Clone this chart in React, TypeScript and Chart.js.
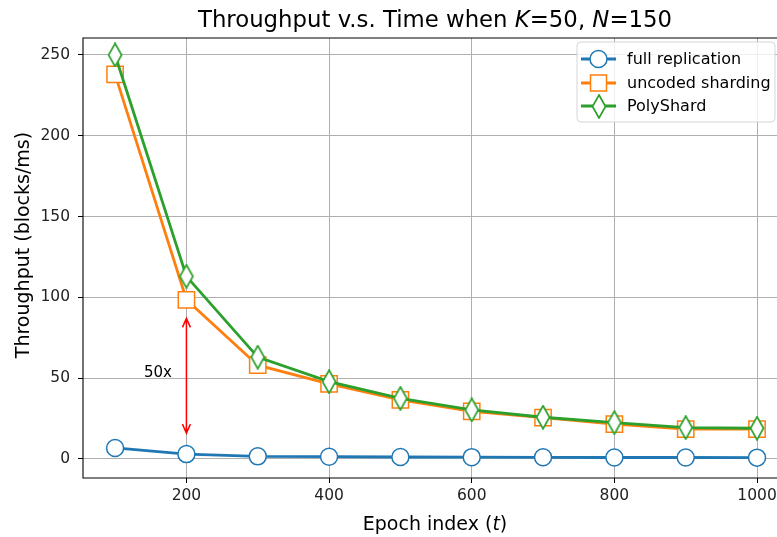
import React, { useEffect, useRef } from "react";
import { Chart, registerables } from "chart.js";

Chart.register(...registerables);

const EPOCHS = [100, 200, 300, 400, 500, 600, 700, 800, 900, 1000];
const FULL_REPLICATION = [6.8, 3.0, 1.6, 1.4, 1.2, 1.1, 1.0, 0.9, 0.9, 0.8];
const UNCODED_SHARDING = [238, 98.5, 58, 46.5, 36.5, 29.5, 25.5, 21.5, 18.5, 18.5];
const POLYSHARD = [250, 113, 63, 47.8, 37.5, 30.3, 25.8, 22.5, 19.4, 19.0];

const X_TICKS = [200, 400, 600, 800, 1000];
const Y_TICKS = [0, 50, 100, 150, 200, 250];

const SERIES_NAMES = ["full replication", "uncoded sharding", "PolyShard"];
const COLORS = ["#1f77b4", "#ff7f0e", "#2ca02c"];

// annotation: double arrow at t=200 between these values, label "50x"
const ARROW_X = 200;
const ARROW_FROM = 16;
const ARROW_TO = 87;
const ANNOT_TEXT = "50x";
const ANNOT_X = 160;
const ANNOT_Y = 51;

const FONT = "'DejaVu Sans', sans-serif";

function makeDiamond(color: string): HTMLCanvasElement {
  const c = document.createElement("canvas");
  const w = 16, h = 25;
  c.width = w;
  c.height = h;
  const ctx = c.getContext("2d")!;
  ctx.beginPath();
  ctx.moveTo(w / 2, 1);
  ctx.lineTo(w - 1.5, h / 2);
  ctx.lineTo(w / 2, h - 1);
  ctx.lineTo(1.5, h / 2);
  ctx.closePath();
  ctx.fillStyle = "#ffffff";
  ctx.fill();
  ctx.lineWidth = 1.7;
  ctx.strokeStyle = color;
  ctx.stroke();
  return c;
}

function drawRich(ctx: CanvasRenderingContext2D, parts: [string, boolean][], cx: number, y: number, size: number) {
  let total = 0;
  const widths: number[] = [];
  for (const [t, it] of parts) {
    ctx.font = `${it ? "italic " : ""}${size}px ${FONT}`;
    const w = ctx.measureText(t).width;
    widths.push(w);
    total += w;
  }
  let x = cx - total / 2;
  ctx.textAlign = "left";
  parts.forEach(([t, it], i) => {
    ctx.font = `${it ? "italic " : ""}${size}px ${FONT}`;
    ctx.fillText(t, x, y);
    x += widths[i];
  });
}

const diamondImg = makeDiamond(COLORS[2]);

const decorPlugin = {
  id: "decor",
  beforeDatasetsDraw(chart: any) {
    const { ctx, chartArea: a } = chart;
    ctx.save();
    ctx.strokeStyle = "#000";
    ctx.lineWidth = 1.1;
    ctx.beginPath();
    ctx.moveTo(a.right + 2, a.top);
    ctx.lineTo(a.left, a.top);
    ctx.lineTo(a.left, a.bottom);
    ctx.lineTo(a.right + 2, a.bottom);
    ctx.stroke();
    ctx.restore();
  },
  afterDraw(chart: any) {
    const { ctx, scales } = chart;
    const xs = scales.x, ys = scales.y;
    ctx.save();
    ctx.fillStyle = "#000";
    ctx.textBaseline = "alphabetic";
    // title
    drawRich(
      ctx,
      [["Throughput v.s. Time when ", false], ["K", true], ["=50, ", false], ["N", true], ["=150", false]],
      435,
      27,
      22.8
    );
    // x label
    drawRich(ctx, [["Epoch index (", false], ["t", true], [")", false]], 435, 530, 19);
    // y label
    ctx.save();
    ctx.translate(29, 245);
    ctx.rotate(-Math.PI / 2);
    ctx.font = `19px ${FONT}`;
    ctx.textAlign = "center";
    ctx.fillText("Throughput (blocks/ms)", 0, 0);
    ctx.restore();

    // annotation arrow
    const ax = xs.getPixelForValue(ARROW_X);
    const y1 = ys.getPixelForValue(ARROW_FROM);
    const y2 = ys.getPixelForValue(ARROW_TO);
    ctx.strokeStyle = "#ff0000";
    ctx.lineWidth = 1.5;
    ctx.beginPath();
    ctx.moveTo(ax, y1);
    ctx.lineTo(ax, y2);
    ctx.moveTo(ax - 4, y2 + 9);
    ctx.lineTo(ax, y2);
    ctx.lineTo(ax + 4, y2 + 9);
    ctx.moveTo(ax - 4, y1 - 9);
    ctx.lineTo(ax, y1);
    ctx.lineTo(ax + 4, y1 - 9);
    ctx.stroke();
    ctx.fillStyle = "#000";
    ctx.font = `15px ${FONT}`;
    ctx.textAlign = "center";
    ctx.fillText(ANNOT_TEXT, xs.getPixelForValue(ANNOT_X), ys.getPixelForValue(ANNOT_Y));

    // legend
    const lx = 577, ly = 42, lw = 198, lh = 80;
    ctx.beginPath();
    (ctx as any).roundRect(lx, ly, lw, lh, 4);
    ctx.fillStyle = "rgba(255,255,255,0.8)";
    ctx.fill();
    ctx.strokeStyle = "rgba(204,204,204,0.8)";
    ctx.lineWidth = 1;
    ctx.stroke();
    const rows = [59, 83, 106];
    rows.forEach((ry, i) => {
      ctx.strokeStyle = COLORS[i];
      ctx.lineWidth = 2.8;
      ctx.beginPath();
      ctx.moveTo(581, ry);
      ctx.lineTo(616, ry);
      ctx.stroke();
      const mx = 598.5;
      ctx.lineWidth = 1.5;
      ctx.fillStyle = "#fff";
      if (i === 0) {
        ctx.beginPath();
        ctx.arc(mx, ry, 8.5, 0, Math.PI * 2);
        ctx.fill();
        ctx.stroke();
      } else if (i === 1) {
        ctx.beginPath();
        ctx.rect(mx - 8, ry - 8, 16, 16);
        ctx.fill();
        ctx.stroke();
      } else {
        ctx.drawImage(diamondImg, Math.round(mx - diamondImg.width / 2), Math.round(ry - diamondImg.height / 2));
      }
      ctx.fillStyle = "#000";
      ctx.font = `16px ${FONT}`;
      ctx.textAlign = "left";
      ctx.textBaseline = "middle";
      ctx.fillText(SERIES_NAMES[i], 627, ry + 1);
    });
    ctx.restore();
  },
};

export default function App() {
  const ref = useRef<HTMLCanvasElement | null>(null);
  useEffect(() => {
    if (!ref.current) return;
    const toPts = (arr: number[]) => EPOCHS.map((x, i) => ({ x, y: arr[i] }));
    const chart = new Chart(ref.current, {
      type: "line",
      data: {
        datasets: [
          {
            label: SERIES_NAMES[0],
            data: toPts(FULL_REPLICATION),
            borderColor: COLORS[0],
            backgroundColor: "#ffffff",
            borderWidth: 2.8,
            pointStyle: "circle",
            pointRadius: 8.5,
            pointBorderWidth: 1.5,
            pointBackgroundColor: "#ffffff",
            pointBorderColor: COLORS[0],
            order: 3,
          },
          {
            label: SERIES_NAMES[1],
            data: toPts(UNCODED_SHARDING),
            borderColor: COLORS[1],
            backgroundColor: "#ffffff",
            borderWidth: 2.8,
            pointStyle: "rect",
            pointRadius: 11.5,
            pointBorderWidth: 1.5,
            pointBackgroundColor: "#ffffff",
            pointBorderColor: COLORS[1],
            order: 2,
          },
          {
            label: SERIES_NAMES[2],
            data: toPts(POLYSHARD),
            borderColor: COLORS[2],
            backgroundColor: "#ffffff",
            borderWidth: 2.8,
            pointStyle: diamondImg as any,
            pointRadius: 10,
            pointBorderWidth: 1.5,
            pointBackgroundColor: "#ffffff",
            pointBorderColor: COLORS[2],
            order: 1,
          },
        ],
      },
      options: {
        animation: false,
        responsive: false,
        devicePixelRatio: 1,
        layout: { autoPadding: false, padding: { top: 38, left: 0, right: 0, bottom: 0 } },
        plugins: {
          legend: { display: false },
          title: { display: false },
          tooltip: { enabled: false },
        },
        elements: { line: { tension: 0 } },
        scales: {
          x: {
            type: "linear",
            min: 55,
            max: 1028,
            afterBuildTicks: (s: any) => {
              s.ticks = X_TICKS.map((v) => ({ value: v }));
            },
            afterFit: (s: any) => {
              s.height = 59;
              s.paddingLeft = 0;
              s.paddingRight = 0;
            },
            ticks: {
              callback: (v: any) => String(v),
              font: { family: FONT, size: 15.5 },
              color: "#222",
              padding: 4,
              maxRotation: 0,
            },
            grid: { color: "#b0b0b0", lineWidth: 1, tickLength: 5, tickColor: "#000", drawTicks: true },
            border: { display: false },
          },
          y: {
            type: "linear",
            min: -11.8,
            max: 260.5,
            afterBuildTicks: (s: any) => {
              s.ticks = Y_TICKS.map((v) => ({ value: v }));
            },
            afterFit: (s: any) => {
              s.width = 83;
              s.paddingTop = 0;
              s.paddingBottom = 0;
            },
            ticks: {
              callback: (v: any) => String(v),
              font: { family: FONT, size: 15.5 },
              color: "#222",
              padding: 8,
            },
            grid: { color: "#b0b0b0", lineWidth: 1, tickLength: 5, tickColor: "#000", drawTicks: true },
            border: { display: false },
          },
        },
      },
      plugins: [decorPlugin],
    });
    return () => chart.destroy();
  }, []);
  return (
    <div style={{ position: "fixed", left: 0, top: 0, width: 777, height: 537, background: "#fff" }}>
      <canvas ref={ref} width={777} height={537} style={{ display: "block", width: 777, height: 537 }} />
    </div>
  );
}
